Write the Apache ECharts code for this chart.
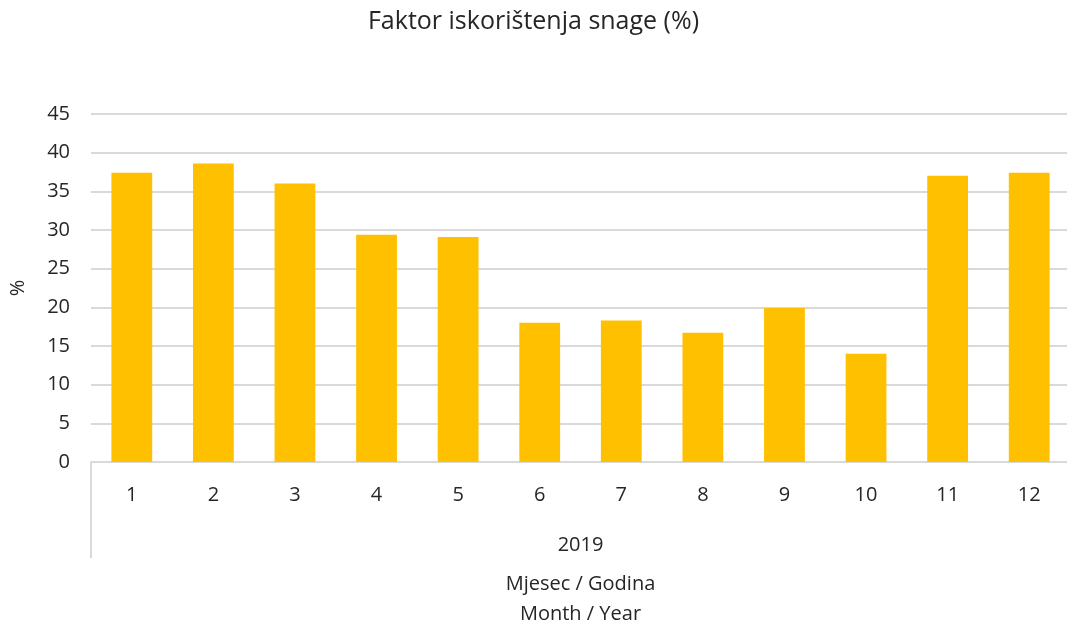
<!DOCTYPE html>
<html>
<head>
<meta charset="utf-8">
<script src="https://cdn.jsdelivr.net/npm/echarts@6/dist/echarts.min.js"></script>
<style>
html, body { margin: 0; padding: 0; background: #fff; }
#main { width: 1067px; height: 625px; }
</style>
</head>
<body>
<div id="main"></div>
<script>
var months = ['1', '2', '3', '4', '5', '6', '7', '8', '9', '10', '11', '12'];
var years = ['2019'];
var factor = [37.4, 38.6, 36.0, 29.4, 29.1, 18.0, 18.3, 16.7, 19.9, 14.0, 37.0, 37.4];

var myChart = echarts.init(document.getElementById('main'));
var font = '"Open Sans", "Liberation Sans", sans-serif';
var option = {
    backgroundColor: '#ffffff',
    textStyle: { fontFamily: font },
    title: {
        text: 'Faktor iskorištenja snage (%)',
        left: 'center',
        top: 4,
        textStyle: { fontFamily: font, fontSize: 25, fontWeight: 'normal', color: '#262626' }
    },
    grid: { left: 91, right: -3, top: 114, bottom: 163, containLabel: false, outerBoundsMode: 'none' },
    xAxis: [
        {
            type: 'category',
            data: months,
            axisLine: { lineStyle: { color: '#d9d9d9', width: 2 } },
            axisTick: { show: false },
            axisLabel: { color: '#262626', fontSize: 20, margin: 23, fontFamily: font }
        },
        {
            type: 'category',
            data: years,
            position: 'bottom',
            axisLine: { show: false },
            axisTick: { show: true, alignWithLabel: false, length: 96, lineStyle: { color: '#d9d9d9', width: 2 } },
            axisLabel: { color: '#262626', fontSize: 20, margin: 73, fontFamily: font },
            name: 'Mjesec / Godina\nMonth / Year',
            nameLocation: 'middle',
            nameGap: 107,
            nameTextStyle: { color: '#262626', fontSize: 20, lineHeight: 30, fontFamily: font }
        }
    ],
    yAxis: {
        type: 'value',
        min: 0,
        max: 45,
        interval: 5,
        name: '%',
        nameLocation: 'middle',
        nameGap: 63,
        nameTextStyle: { color: '#262626', fontSize: 20, fontFamily: font },
        axisLine: { show: false },
        axisTick: { show: false },
        axisLabel: { color: '#262626', fontSize: 20, margin: 21, fontFamily: font },
        splitLine: { lineStyle: { color: '#d9d9d9', width: 2 } }
    },
    series: [
        {
            type: 'bar',
            data: factor,
            xAxisIndex: 0,
            barWidth: '50%',
            itemStyle: { color: '#FFC000' }
        }
    ]
};
myChart.setOption(option);
</script>
</body>
</html>
